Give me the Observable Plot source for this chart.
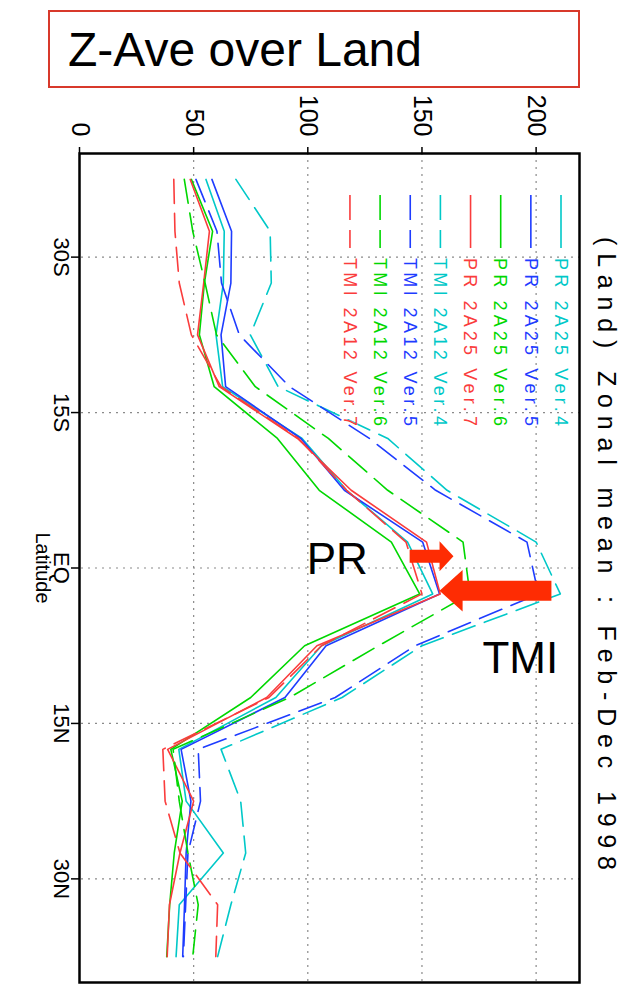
<!DOCTYPE html>
<html>
<head>
<meta charset="utf-8">
<script src="https://cdn.jsdelivr.net/npm/d3@7"></script>
<script src="https://cdn.jsdelivr.net/npm/@observablehq/plot@0.6"></script>
<style>
  html, body { margin: 0; padding: 0; background: #fff; }
  body { width: 635px; height: 987px; overflow: hidden; position: relative; font-family: "Liberation Sans", Arial, sans-serif; }
  #titlebox { position: absolute; left: 48px; top: 10px; width: 532px; height: 78px; box-sizing: border-box;
    border: 2px solid #d8392b; font-size: 48px; line-height: 76px; padding-left: 18px; z-index: 2; color: #000; }
  #chart { position: absolute; left: 0; top: 0; width: 987px; height: 635px;
    transform-origin: 0 0; transform: translate(635px, 0) rotate(90deg); }
</style>
</head>
<body>
<div id="titlebox">Z-Ave over Land</div>
<div id="chart"></div>
<script>
// ---- data ----
const lats = [-37.5, -32.5, -27.5, -22.5, -17.5, -12.5, -7.5, -2.5, 2.5, 7.5, 12.5, 17.5, 22.5, 27.5, 32.5, 37.5];
const prV4  = [55.4, 63.4, 63.0, 59.8, 62.7, 97.5, 117, 143.7, 154.7, 106, 86, 43.5, 46.7, 63.0, 43.7, 42.3];
const prV5  = [58.0, 66.6, 66.3, 62.0, 64.0, 97.0, 116, 150.3, 157.7, 108, 90, 44.5, 48.8, 46.7, 46.0, 45.2];
const prV6  = [49.0, 58.3, 54.7, 52.5, 59.0, 86.7, 105, 136.6, 149.0, 98.6, 75, 40.0, 45.0, 41.5, 39.5, 38.2];
const prV7  = [48.5, 56.9, 54.4, 51.7, 61.2, 95.5, 119, 152.0, 158.0, 104, 82, 38.6, 50.0, 44.0, 39.4, 38.4];
const tmiV4 = [68.5, 83.5, 84.0, 74.8, 87.0, 135, 161, 200.0, 210.6, 150, 115, 62.0, 70.6, 72.8, 66.3, 60.5];
const tmiV5 = [51.0, 60.2, 62.2, 70.0, 92.0, 127, 156, 196.0, 201.0, 147, 112, 52.0, 53.0, 47.5, 46.5, 45.5];
const tmiV6 = [45.9, 49.6, 55.0, 60.0, 77.0, 109, 135, 168.0, 171.0, 131, 92, 41.0, 43.7, 47.5, 52.0, 49.6];
const tmiV7 = [41.3, 41.8, 43.7, 49.0, 62.0, 96, 117, 143.0, 150.0, 106, 83, 36.5, 37.5, 44.0, 60.5, 59.7];
const seriesNames = ["PR 2A25 Ver.4", "PR 2A25 Ver.5", "PR 2A25 Ver.6", "PR 2A25 Ver.7",
                     "TMI 2A12 Ver.4", "TMI 2A12 Ver.5", "TMI 2A12 Ver.6", "TMI 2A12 Ver.7"];
const seriesValues = [prV4, prV5, prV6, prV7, tmiV4, tmiV5, tmiV6, tmiV7];
const latTicks = [-30, -15, 0, 15, 30];
const latTickLabels = ["30S", "15S", "EQ", "15N", "30N"];
const valueTicks = [0, 50, 100, 150, 200];
const titleText = "(Land) Zonal mean : Feb-Dec 1998";
const axisLabel = "Latitude";
// annotations (data coordinates: latitude, value)
const annotations = [
  {label: "PR", lat: 0.55, value: 99.5},
  {label: "TMI", lat: 10.1, value: 176.5}
];
const arrowSpecs = [
  {id: "PR", lat: -1.14, tail: 144.6, base: 157.7, tip: 163.8, shaftHalf: 0.63, headHalf: 1.45},
  {id: "TMI", lat: 2.19, tail: 206.7, base: 167.8, tip: 157.7, shaftHalf: 0.96, headHalf: 2.0}
];

// ---- styles ----
const colors = ["rgb(0,200,200)", "rgb(30,60,255)", "rgb(0,215,0)", "rgb(250,60,60)",
                "rgb(0,200,200)", "rgb(30,60,255)", "rgb(0,215,0)", "rgb(250,60,60)"];
const dashed = [false, false, false, false, true, true, true, true];
const dash = "24,10";
const font = "Liberation Sans, Arial, sans-serif";

const rows = seriesNames.flatMap((name, i) => lats.map((lat, j) => ({series: name, lat, value: seriesValues[i][j]})));
const arrowPts = arrowSpecs.flatMap(a => [
  [a.lat - a.shaftHalf, a.tail], [a.lat - a.shaftHalf, a.base], [a.lat - a.headHalf, a.base],
  [a.lat, a.tip], [a.lat + a.headHalf, a.base], [a.lat + a.shaftHalf, a.base], [a.lat + a.shaftHalf, a.tail]
].map(([lat, value]) => ({id: a.id, lat, value})));

const chart = Plot.plot({
  width: 987, height: 635,
  marginLeft: 153, marginRight: 5, marginTop: 55, marginBottom: 80,
  style: {fontFamily: font, background: "white", color: "black", overflow: "visible"},
  x: {domain: [-40, 40]},
  y: {domain: [0, 219]},
  marks: [
    Plot.gridX(latTicks, {stroke: "#8a8a8a", strokeOpacity: 1, strokeWidth: 1.2, strokeDasharray: "2,5"}),
    Plot.gridY(valueTicks.filter(d => d > 0), {stroke: "#8a8a8a", strokeOpacity: 1, strokeWidth: 1.2, strokeDasharray: "2,5"}),
    Plot.axisX(latTicks, {tickFormat: d => latTickLabels[latTicks.indexOf(d)], tickSize: 9, tickPadding: 1,
      fontSize: 22, label: null, strokeWidth: 1.5}),
    Plot.axisY(valueTicks, {tickSize: 6, tickPadding: 11, fontSize: 25, label: null, strokeWidth: 1.5}),
    Plot.text([axisLabel], {frameAnchor: "bottom", dy: 37, fontSize: 20, lineAnchor: "middle"}),
    ...seriesNames.map((name, i) => Plot.line(rows.filter(d => d.series === name), {
      x: "lat", y: "value", stroke: colors[i], strokeWidth: 1.6,
      strokeDasharray: dashed[i] ? dash : undefined
    })),
    Plot.frame({stroke: "black", strokeWidth: 2.5}),
    Plot.line(arrowPts, {x: "lat", y: "value", z: "id", fill: "#fe2c03", stroke: "none"}),
    Plot.text(annotations, {x: "lat", y: "value", text: "label", rotate: -90, textAnchor: "start",
      lineAnchor: "bottom", fontSize: 44, fill: "black"})
  ]
});
document.getElementById("chart").appendChild(chart);

// legend and title (chart chrome, placed in the unrotated frame)
const svg = d3.select(chart);
const lg = svg.append("g").attr("font-family", font).attr("font-size", 18).attr("text-anchor", "start");
seriesNames.forEach((name, i) => {
  const v = 74 + i * 30.15;
  lg.append("line").attr("x1", 195).attr("x2", 248).attr("y1", v).attr("y2", v)
    .attr("stroke", colors[i]).attr("stroke-width", 1.6)
    .attr("stroke-dasharray", dashed[i] ? "25,10" : null);
  lg.append("text").attr("x", 258).attr("y", v).attr("dy", "0.35em")
    .attr("fill", colors[i]).attr("textLength", 168).attr("lengthAdjust", "spacing")
    .text(name);
});
svg.append("text").attr("x", 237).attr("y", 28).attr("dy", "0.35em").attr("text-anchor", "start")
  .attr("font-family", font).attr("font-size", 25).attr("fill", "black")
  .attr("textLength", 633).attr("lengthAdjust", "spacing")
  .text(titleText);
</script>
</body>
</html>
